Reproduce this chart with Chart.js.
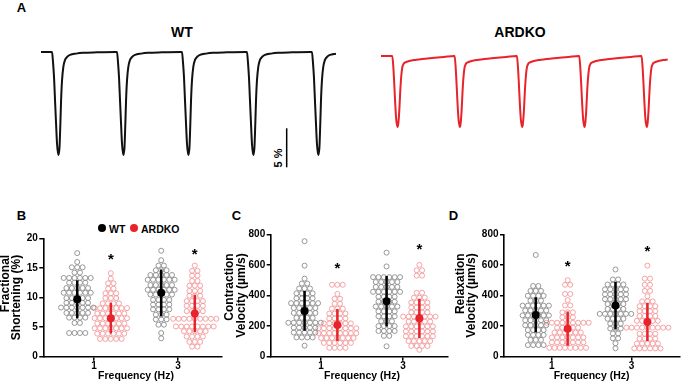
<!DOCTYPE html>
<html>
<head>
<meta charset="utf-8">
<script src="https://cdn.jsdelivr.net/npm/chart.js@4.4.1/dist/chart.umd.min.js"></script>
<style>
  body { margin: 0; background: #fff; }
  #wrap { position: relative; width: 685px; height: 382px; overflow: hidden; font-family: "Liberation Sans", Arial, sans-serif; }
  canvas { position: absolute; }
  .t { position: absolute; font-weight: bold; line-height: 1; white-space: nowrap; color: #000; transform: translate(-50%, -50%); }
  .dot { position: absolute; width: 8px; height: 8px; border-radius: 50%; transform: translate(-50%, -50%); }
</style>
</head>
<body>
<div id="wrap">
  <div class="t" style="left:21.5px;top:6.5px;font-size:13px">A</div>
  <div class="t" style="left:182px;top:32px;font-size:14px">WT</div>
  <div class="t" style="left:520px;top:32px;font-size:14px">ARDKO</div>
  <div class="t" style="left:277.5px;top:157.5px;font-size:11px;transform:translate(-50%,-50%) rotate(-90deg)">5 %</div>

  <div class="t" style="left:21.5px;top:214.5px;font-size:13px">B</div>
  <div class="t" style="left:236.5px;top:214.5px;font-size:13px">C</div>
  <div class="t" style="left:453.5px;top:214.5px;font-size:13px">D</div>

  <div class="dot" style="left:101.7px;top:228.3px;background:#000"></div>
  <div class="t" style="left:109px;top:228.5px;font-size:10.5px;transform:translate(0,-50%)">WT</div>
  <div class="dot" style="left:133.8px;top:228.3px;background:#e8232a"></div>
  <div class="t" style="left:141px;top:228.5px;font-size:10.5px;transform:translate(0,-50%)">ARDKO</div>

  <canvas id="cWT" width="295" height="130" style="left:41px;top:40px"></canvas>
  <canvas id="cKO" width="287" height="100" style="left:381px;top:40px"></canvas>
  <canvas id="cB" width="228" height="186" style="left:0px;top:196px"></canvas>
  <canvas id="cC" width="230" height="186" style="left:224px;top:196px"></canvas>
  <canvas id="cD" width="230" height="186" style="left:455px;top:196px"></canvas>
</div>
<script>
// ---- panel A: one beat shape per genotype (ms after stimulus, % shortening)
const wtBeatT = [0, 15, 31, 46, 62, 77, 97, 115, 128, 139, 154, 174, 200, 231, 277, 370, 477, 693, 985];
const wtBeatS = [0, 1.3, 3.3, 6.2, 9.2, 11.8, 13.2, 12.2, 9.2, 6.2, 3.6, 1.9, 1.0, 0.64, 0.38, 0.21, 0.1, 0.04, 0];
const wtOnsets = [170, 1170, 2170, 3170, 4170];
const wtEnd = 4540;

const koBeatT = [0, 16, 32, 48, 64, 85, 96, 112, 128, 144, 160, 176, 192, 224, 272, 352, 420, 480, 640, 830, 990];
const koBeatS = [0, 1.3, 3.6, 6.2, 8.2, 9.1, 8.7, 7.1, 4.5, 2.6, 1.5, 1.1, 0.9, 0.77, 0.64, 0.51, 0.45, 0.38, 0.26, 0.13, 0];
const koOnsets = [181, 1181, 2181, 3181, 4181];
const koEnd = 4606;

const scaleBarPct = 5;

// ---- panels B-D: dot rows (value, number of cells in that row)
const freqLabels = ['1', '3'];

const fsWt1Vals = [17.5, 16.0, 15.1, 14.2, 13.3, 12.5, 11.6, 10.8, 9.9, 9.1, 8.3, 7.4, 6.6, 5.7, 4.0];
const fsWt1N = [1, 1, 3, 2, 6, 4, 5, 6, 5, 5, 7, 5, 4, 2, 4];
const fsKo1Vals = [14.1, 13.2, 12.4, 11.5, 10.7, 9.9, 9.0, 8.2, 7.3, 6.5, 5.6, 4.8, 3.9, 3.0];
const fsKo1N = [1, 1, 2, 2, 3, 3, 4, 7, 6, 7, 6, 7, 6, 5];
const fsWt3Vals = [17.9, 16.3, 15.4, 14.6, 13.8, 13.0, 12.1, 11.3, 10.5, 9.6, 8.8, 8.0, 7.1, 6.3, 5.4, 4.0, 3.1];
const fsWt3N = [1, 1, 2, 3, 5, 6, 5, 6, 5, 4, 4, 4, 3, 3, 2, 1, 1];
const fsKo3Vals = [15.4, 14.5, 13.7, 12.8, 12.0, 11.1, 10.3, 9.4, 8.6, 7.7, 6.4, 5.1, 4.3, 3.4, 2.5, 1.7];
const fsKo3N = [1, 2, 2, 2, 3, 3, 3, 4, 4, 4, 9, 8, 5, 4, 3, 2];
const fsMeanWt = [9.7, 10.8], fsSdWt = [3.2, 3.95];
const fsMeanKo = [6.5, 7.3], fsSdKo = [2.6, 3.15];
const fsStarY = [16.6, 17.4];

const cvWt1Vals = [755, 595, 510, 478, 446, 414, 382, 350, 318, 286, 254, 222, 190, 158, 126, 72];
const cvWt1N = [1, 1, 1, 2, 3, 4, 4, 6, 5, 5, 4, 7, 5, 5, 4, 1];
const cvKo1Vals = [470, 410, 378, 346, 314, 282, 250, 218, 186, 154, 122, 90, 58];
const cvKo1N = [3, 1, 2, 2, 3, 4, 4, 6, 8, 8, 7, 6, 4];
const cvWt3Vals = [680, 590, 520, 488, 456, 424, 392, 360, 328, 296, 264, 232, 200, 168, 136, 68];
const cvWt3N = [1, 1, 6, 5, 5, 6, 4, 4, 5, 4, 4, 3, 4, 4, 2, 1];
const cvKo3Vals = [600, 565, 530, 418, 386, 354, 322, 290, 262, 230, 198, 166, 134, 102, 70, 45];
const cvKo3N = [1, 2, 2, 2, 3, 4, 4, 4, 7, 5, 6, 6, 6, 5, 4, 1];
const cvMeanWt = [299, 363], cvSdWt = [130, 165];
const cvMeanKo = [207, 251], cvSdKo = [105, 128];
const cvStarY = [582, 708];

const rvWt1Vals = [665, 462, 430, 398, 366, 334, 302, 270, 238, 206, 174, 142, 110, 76];
const rvWt1N = [1, 2, 3, 4, 3, 6, 5, 6, 5, 5, 4, 4, 3, 4];
const rvKo1Vals = [500, 470, 410, 370, 335, 290, 258, 222, 190, 158, 126, 94, 58];
const rvKo1N = [1, 2, 2, 1, 2, 3, 3, 9, 5, 6, 7, 7, 8];
const rvWt3Vals = [570, 505, 472, 440, 408, 376, 344, 312, 280, 248, 216, 184, 152, 120, 88, 55];
const rvWt3N = [1, 2, 4, 5, 5, 5, 4, 4, 7, 4, 3, 3, 2, 2, 1, 1];
const rvKo3Vals = [595, 510, 470, 430, 395, 362, 330, 298, 266, 234, 190, 150, 118, 86, 54];
const rvKo3N = [1, 2, 2, 2, 1, 3, 4, 4, 4, 5, 9, 4, 4, 5, 6];
const rvMeanWt = [273, 334], rvSdWt = [115, 156];
const rvMeanKo = [183, 227], rvSdKo = [112, 125];
const rvStarY = [595, 691];

const FONT = '"Liberation Sans", Arial, sans-serif';
const RED = '#e8232a';
const PINK = '#f39a9c';
const GREY = '#8c8c8c';
Chart.defaults.font.family = FONT;

// ---------- traces
function buildTrace(beatT, beatS, onsets, end) {
  const pts = [{x: 0, y: 0}];
  onsets.forEach(o => {
    beatT.forEach((t, i) => {
      if (o + t <= end) pts.push({x: o + t, y: beatS[i]});
    });
  });
  return pts;
}

const scaleBar = {
  id: 'scaleBar',
  afterDraw(chart) {
    const ctx = chart.ctx;
    const x = chart.scales.x.getPixelForValue(3781);
    const y1 = chart.scales.y.getPixelForValue(9.78);
    const y2 = chart.scales.y.getPixelForValue(9.78 + scaleBarPct);
    ctx.save();
    ctx.strokeStyle = '#000';
    ctx.lineWidth = 1.5;
    ctx.beginPath();
    ctx.moveTo(x, y1);
    ctx.lineTo(x, y2);
    ctx.stroke();
    ctx.restore();
  }
};

function traceChart(id, pts, color, yMin, yMax, xMax, extra) {
  return new Chart(document.getElementById(id), {
    type: 'scatter',
    data: {
      datasets: [{
        data: pts,
        showLine: true,
        borderColor: color,
        borderWidth: 2,
        pointRadius: 0,
        cubicInterpolationMode: 'monotone',
        clip: false
      }]
    },
    options: {
      animation: false,
      responsive: false,
      devicePixelRatio: 1,
      layout: {padding: 0},
      plugins: {legend: {display: false}, tooltip: {enabled: false}},
      scales: {
        x: {type: 'linear', min: 0, max: xMax, display: false},
        y: {min: yMin, max: yMax, reverse: true, display: false}
      }
    },
    plugins: extra ? [extra] : []
  });
}

traceChart('cWT', buildTrace(wtBeatT, wtBeatS, wtOnsets, wtEnd), '#111', -1.538, 15.128, wtEnd, scaleBar);
traceChart('cKO', buildTrace(koBeatT, koBeatS, koOnsets, koEnd), RED, -2.051, 10.77, koEnd, null);

// ---------- dot plots
function dots(center, vals, counts, gap) {
  const pts = [];
  vals.forEach((v, i) => {
    const n = counts[i];
    for (let k = 0; k < n; k++) pts.push({x: center + (k - (n - 1) / 2) * gap, y: v});
  });
  return pts;
}

function textPlugin(p) {
  return {
    id: 'panelText',
    afterDraw(chart) {
      const ctx = chart.ctx;
      const ca = chart.chartArea;
      const xs = chart.scales.x, ys = chart.scales.y;
      ctx.save();
      ctx.fillStyle = '#000';

      // y title, lines aligned at their ends
      ctx.font = 'bold 12px ' + FONT;
      const w = Math.max(...p.title.map(t => ctx.measureText(t).width));
      const endY = (ca.top + ca.bottom) / 2 - w / 2;
      p.title.forEach((t, i) => {
        ctx.save();
        ctx.translate(p.titleX[i], endY);
        ctx.rotate(-Math.PI / 2);
        ctx.textAlign = 'right';
        ctx.textBaseline = 'middle';
        ctx.fillText(t, 0, 0);
        ctx.restore();
      });

      // x title
      ctx.font = 'bold 10.5px ' + FONT;
      ctx.textAlign = 'center';
      ctx.textBaseline = 'alphabetic';
      ctx.fillText('Frequency (Hz)', xs.getPixelForValue(1.5), chart.height - 3);

      // significance marks
      ctx.font = 'bold 15px ' + FONT;
      ctx.textBaseline = 'middle';
      p.stars.forEach((v, i) => {
        ctx.fillText('*', xs.getPixelForValue(i + 1.2), ys.getPixelForValue(v) + 1);
      });
      ctx.restore();
    }
  };
}

function makePanel(p) {
  const gap = 5.4 / p.pxPerUnit;
  const ds = [];
  [0, 1].forEach(i => {
    const xw = i + 1 - 0.2, xk = i + 1 + 0.2;
    ds.push({data: [{x: xw, y: p.meanWt[i]}], pointRadius: 4, pointBackgroundColor: '#000', pointBorderWidth: 0, order: 0});
    ds.push({data: [{x: xk, y: p.meanKo[i]}], pointRadius: 4, pointBackgroundColor: RED, pointBorderWidth: 0, order: 0});
    ds.push({data: [{x: xw, y: p.meanWt[i] - p.sdWt[i]}, {x: xw, y: p.meanWt[i] + p.sdWt[i]}],
      showLine: true, borderColor: '#000', borderWidth: 2.5, pointRadius: 0, order: 1});
    ds.push({data: [{x: xk, y: p.meanKo[i] - p.sdKo[i]}, {x: xk, y: p.meanKo[i] + p.sdKo[i]}],
      showLine: true, borderColor: RED, borderWidth: 2.5, pointRadius: 0, order: 1});
    ds.push({data: dots(xw, p.wt[i][0], p.wt[i][1], gap), pointRadius: 2.5, pointBorderWidth: 0.9,
      pointBorderColor: GREY, pointBackgroundColor: 'rgba(255,255,255,0)', order: 2});
    ds.push({data: dots(xk, p.ko[i][0], p.ko[i][1], gap), pointRadius: 2.5, pointBorderWidth: 0.9,
      pointBorderColor: PINK, pointBackgroundColor: 'rgba(255,255,255,0)', order: 2});
  });

  const tickFont = {size: 10, weight: 'bold', family: FONT};
  new Chart(document.getElementById(p.id), {
    type: 'scatter',
    data: {datasets: ds},
    options: {
      animation: false,
      responsive: false,
      devicePixelRatio: 1,
      layout: {padding: {top: p.padTop, right: p.padRight, left: 0, bottom: 0}},
      plugins: {legend: {display: false}, tooltip: {enabled: false}},
      scales: {
        x: {
          type: 'linear', min: p.xMin, max: p.xMax,
          afterBuildTicks: s => { s.ticks = [{value: 1}, {value: 2}]; },
          afterFit: s => { s.height = p.xAxisH; },
          ticks: {callback: v => freqLabels[Math.round(v) - 1], color: '#000', font: tickFont, padding: 0, maxRotation: 0, autoSkip: false},
          grid: {drawOnChartArea: false, tickLength: 4, color: '#000', lineWidth: 1.5},
          border: {color: '#000', width: 1.6}
        },
        y: {
          min: 0, max: p.yMax,
          afterFit: s => { s.width = p.yAxisW; },
          ticks: {stepSize: p.yStep, color: '#000', font: tickFont, padding: 1.5},
          grid: {drawOnChartArea: false, tickLength: 4, color: '#000', lineWidth: 1.5},
          border: {color: '#000', width: 1.6}
        }
      }
    },
    plugins: [textPlugin(p)]
  });
}

makePanel({
  id: 'cB', yMax: 20, yStep: 5, xMin: 0.396, xMax: 2.524, pxPerUnit: 84,
  padTop: 42.3, padRight: 6, yAxisW: 43.3, xAxisH: 25.3,
  title: ['Fractional', 'Shortening (%)'], titleX: [5.5, 17],
  wt: [[fsWt1Vals, fsWt1N], [fsWt3Vals, fsWt3N]], ko: [[fsKo1Vals, fsKo1N], [fsKo3Vals, fsKo3N]],
  meanWt: fsMeanWt, sdWt: fsSdWt, meanKo: fsMeanKo, sdKo: fsSdKo, stars: fsStarY
});

makePanel({
  id: 'cC', yMax: 800, yStep: 200, xMin: 0.387, xMax: 2.549, pxPerUnit: 82,
  padTop: 38.3, padRight: 6, yAxisW: 46.7, xAxisH: 25.3,
  title: ['Contraction', 'Velocity (µm/s)'], titleX: [5.7, 17.5],
  wt: [[cvWt1Vals, cvWt1N], [cvWt3Vals, cvWt3N]], ko: [[cvKo1Vals, cvKo1N], [cvKo3Vals, cvKo3N]],
  meanWt: cvMeanWt, sdWt: cvSdWt, meanKo: cvMeanKo, sdKo: cvSdKo, stars: cvStarY
});

makePanel({
  id: 'cD', yMax: 800, yStep: 200, xMin: 0.402, xMax: 2.61, pxPerUnit: 82,
  padTop: 38.3, padRight: 0, yAxisW: 49, xAxisH: 25.3,
  title: ['Relaxation', 'Velocity (µm/s)'], titleX: [5.5, 17],
  wt: [[rvWt1Vals, rvWt1N], [rvWt3Vals, rvWt3N]], ko: [[rvKo1Vals, rvKo1N], [rvKo3Vals, rvKo3N]],
  meanWt: rvMeanWt, sdWt: rvSdWt, meanKo: rvMeanKo, sdKo: rvSdKo, stars: rvStarY
});
</script>
</body>
</html>
